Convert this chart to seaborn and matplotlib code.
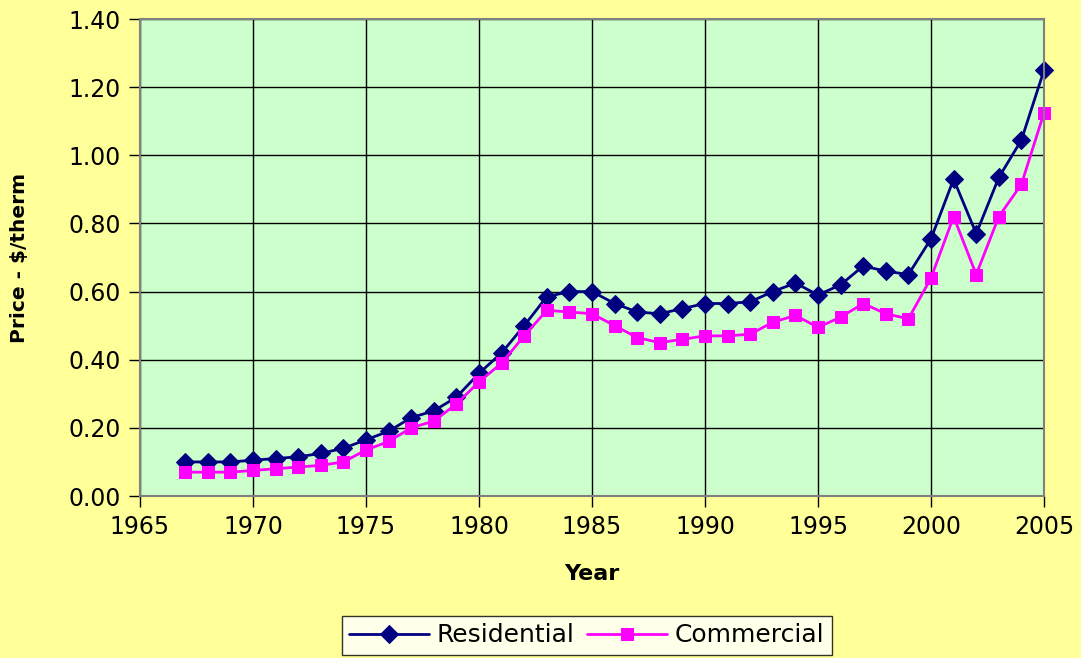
import seaborn as sns
import matplotlib.pyplot as plt
import pandas as pd

# Natural gas prices, $/therm
years = list(range(1967, 2006))
residential = [0.10, 0.10, 0.10, 0.105, 0.11, 0.115, 0.125, 0.14, 0.165, 0.19,
               0.23, 0.25, 0.29, 0.36, 0.42, 0.50, 0.585, 0.60, 0.60, 0.565,
               0.54, 0.535, 0.55, 0.565, 0.565, 0.57, 0.60, 0.625, 0.59, 0.62,
               0.675, 0.66, 0.65, 0.755, 0.93, 0.77, 0.935, 1.045, 1.25]
commercial = [0.07, 0.07, 0.07, 0.075, 0.08, 0.085, 0.09, 0.10, 0.135, 0.16,
              0.20, 0.22, 0.27, 0.335, 0.39, 0.47, 0.545, 0.54, 0.535, 0.50,
              0.465, 0.45, 0.46, 0.47, 0.47, 0.475, 0.51, 0.53, 0.495, 0.525,
              0.565, 0.535, 0.52, 0.64, 0.82, 0.65, 0.82, 0.915, 1.125]
series_names = ["Residential", "Commercial"]
x_ticks = [1965, 1970, 1975, 1980, 1985, 1990, 1995, 2000, 2005]
y_ticks = [0.0, 0.2, 0.4, 0.6, 0.8, 1.0, 1.2, 1.4]

df = pd.DataFrame({
    "Year": years * 2,
    "Price": residential + commercial,
    "Series": ["Residential"] * len(years) + ["Commercial"] * len(years),
})

sns.set_theme(style="white")
# wide sans to match the stretched Arial of the original
plt.rcParams["font.family"] = ["DejaVu Sans"]
plt.rcParams["text.color"] = "black"
plt.rcParams["axes.labelcolor"] = "black"
plt.rcParams["xtick.color"] = "black"
plt.rcParams["ytick.color"] = "black"

fig = plt.figure(figsize=(10.81, 6.58), dpi=100, facecolor="#FFFF99")
ax = fig.add_axes([0.1295, 0.2462, 0.8363, 0.7249])
ax.set_facecolor("#CCFFCC")

colors = {"Residential": "#000080", "Commercial": "#FF00FF"}
sns.lineplot(data=df, x="Year", y="Price", hue="Series", style="Series",
             hue_order=series_names, style_order=series_names,
             palette=colors, markers={"Residential": "D", "Commercial": "s"},
             dashes=False, markersize=9, linewidth=2, ax=ax, legend=True,
             clip_on=False)
for line in ax.lines:
    line.set_markeredgecolor(line.get_color())

ax.set_xlim(1965, 2005)
ax.set_ylim(0, 1.4)
ax.set_xticks(x_ticks)
ax.set_yticks(y_ticks)
ax.set_yticklabels([f"{v:.2f}" for v in y_ticks])
ax.grid(True, color="black", linewidth=1)
ax.set_axisbelow(True)
for s in ax.spines.values():
    s.set_color("#808080")
    s.set_linewidth(1.5)
ax.tick_params(axis="both", direction="out", length=8, width=1, color="black",
               labelcolor="black", labelsize=17, pad=6, bottom=True, left=True)

ax.set_xlabel("Year", fontsize=16, fontweight="bold", labelpad=18)
ax.set_ylabel("Price - $/therm", fontsize=14.5, fontweight="bold", labelpad=28)

handles, labels = ax.get_legend_handles_labels()
ax.get_legend().remove()
leg = fig.legend(handles, labels, loc="upper center", ncol=2,
                 bbox_to_anchor=(0.543, 0.064), fontsize=18, frameon=True,
                 fancybox=False, edgecolor="black", facecolor="white",
                 handlelength=3.2, columnspacing=0.5, handletextpad=0.3,
                 borderpad=0.3, borderaxespad=0)
leg.get_frame().set_linewidth(1)

fig.savefig("out.png", dpi=100, facecolor=fig.get_facecolor())
